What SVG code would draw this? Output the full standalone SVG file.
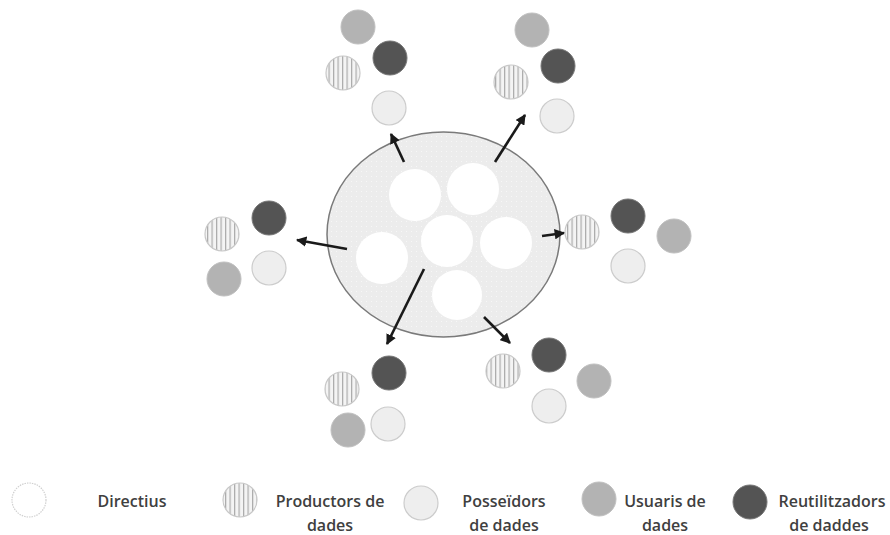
<svg xmlns="http://www.w3.org/2000/svg" width="890" height="535" viewBox="0 0 890 535">
<defs>
<pattern id="stripes" patternUnits="userSpaceOnUse" width="4.5" height="10">
<rect width="4.5" height="10" fill="#f4f4f4"/>
<rect x="0" width="1.2" height="10" fill="#aaaaaa"/>
</pattern>
<pattern id="dots" patternUnits="userSpaceOnUse" width="5" height="5">
<rect width="5" height="5" fill="#ececec"/>
<circle cx="1.5" cy="1.5" r="0.6" fill="#fafafa"/>
</pattern>
<marker id="ah" viewBox="0 0 10 10" refX="9" refY="5" markerWidth="4" markerHeight="4" orient="auto">
<path d="M0,0 L10,5 L0,10 z" fill="#1a1a1a"/>
</marker>
</defs>
<style>
.dir{fill:#ffffff;stroke:#d0d0d0;stroke-width:1.2;stroke-dasharray:1.5 1}
.inner{fill:#ffffff}
.prod{fill:url(#stripes);stroke:#c8c8c8;stroke-width:1.2}
.pos{fill:#eeeeee;stroke:#cccccc;stroke-width:1.2}
.usu{fill:#b3b3b3;stroke:#c0c0c0;stroke-width:1}
.reu{fill:#545454;stroke:#777;stroke-width:1}
.conn line{stroke:#1a1a1a;stroke-width:2.6;marker-end:url(#ah)}
text{font-family:"Open Sans","Liberation Sans",sans-serif;font-size:16px;font-weight:600;fill:#404040;text-anchor:middle}
</style>
<rect width="890" height="535" fill="#ffffff"/>

<g id="core">
<ellipse cx="443.5" cy="234.5" rx="116.5" ry="102.5" fill="url(#dots)" stroke="#7a7a7a" stroke-width="1.5"/>
<circle class="inner" cx="415" cy="195" r="26"/>
<circle class="inner" cx="473" cy="189" r="26"/>
<circle class="inner" cx="447" cy="241" r="26"/>
<circle class="inner" cx="506" cy="243" r="26"/>
<circle class="inner" cx="382" cy="258" r="26"/>
<circle class="inner" cx="457" cy="295" r="25"/>
</g>

<g id="cluster-top-left">
<circle class="usu" cx="358" cy="27" r="17"/>
<circle class="reu" cx="390" cy="58" r="17"/>
<circle class="prod" cx="343" cy="73" r="17"/>
<circle class="pos" cx="389" cy="108" r="17"/>
</g>
<g id="cluster-top-right">
<circle class="usu" cx="532" cy="30" r="17"/>
<circle class="reu" cx="558" cy="66" r="17"/>
<circle class="prod" cx="511" cy="82" r="17"/>
<circle class="pos" cx="557" cy="116" r="17"/>
</g>
<g id="cluster-left">
<circle class="reu" cx="269" cy="218" r="17"/>
<circle class="prod" cx="222" cy="234" r="17"/>
<circle class="usu" cx="224" cy="279" r="17"/>
<circle class="pos" cx="269" cy="268" r="17"/>
</g>
<g id="cluster-right">
<circle class="prod" cx="582" cy="232" r="17"/>
<circle class="reu" cx="628" cy="216" r="17"/>
<circle class="usu" cx="674" cy="236" r="17"/>
<circle class="pos" cx="628" cy="266" r="17"/>
</g>
<g id="cluster-bottom-left">
<circle class="reu" cx="389" cy="373" r="17"/>
<circle class="prod" cx="342" cy="389" r="17"/>
<circle class="usu" cx="348" cy="430" r="17"/>
<circle class="pos" cx="388" cy="424" r="17"/>
</g>
<g id="cluster-bottom-right">
<circle class="prod" cx="503" cy="371" r="17"/>
<circle class="reu" cx="549" cy="355" r="17"/>
<circle class="usu" cx="594" cy="381" r="17"/>
<circle class="pos" cx="549" cy="406" r="17"/>
</g>

<g id="connectors" class="conn">
<line x1="404" y1="162" x2="391" y2="134"/>
<line x1="495" y1="162" x2="525" y2="115"/>
<line x1="347" y1="249" x2="297" y2="240"/>
<line x1="542" y1="236" x2="564" y2="233"/>
<line x1="424" y1="269" x2="387" y2="344"/>
<line x1="484" y1="317" x2="510" y2="343"/>
</g>

<g id="legend-directius">
<circle class="dir" cx="29" cy="500" r="17"/>
<text x="132" y="507">Directius</text>
</g>
<g id="legend-productors">
<circle class="prod" cx="240" cy="500" r="17"/>
<text x="330" y="507">Productors de</text>
<text x="330" y="531">dades</text>
</g>
<g id="legend-posseidors">
<circle class="pos" cx="421" cy="503" r="17"/>
<text x="504" y="507">Posseïdors</text>
<text x="504" y="531">de dades</text>
</g>
<g id="legend-usuaris">
<circle class="usu" cx="599" cy="499" r="17"/>
<text x="665" y="507">Usuaris de</text>
<text x="665" y="531">dades</text>
</g>
<g id="legend-reutilitzadors">
<circle class="reu" cx="750" cy="502" r="17"/>
<text x="832" y="507">Reutilitzadors</text>
<text x="829" y="531">de daddes</text>
</g>
</svg>
